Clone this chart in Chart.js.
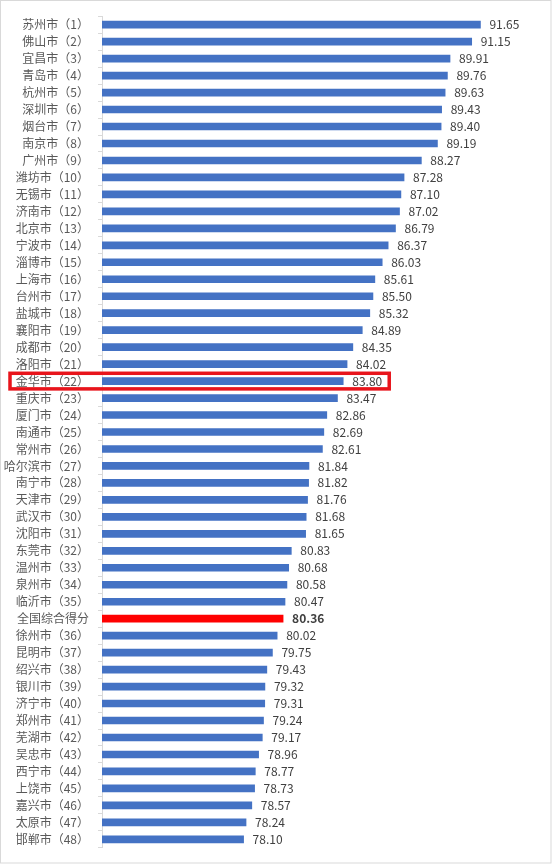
<!DOCTYPE html>
<html>
<head>
<meta charset="utf-8">
<script src="https://cdn.jsdelivr.net/npm/chart.js@4/dist/chart.umd.min.js"></script>
<style>
html,body{margin:0;padding:0;background:#fff;}
#wrap{position:absolute;left:0;top:0;width:553px;height:864px;}
</style>
</head>
<body>
<div id="wrap"><canvas id="c" width="553" height="864"></canvas></div>
<script>
const cities = ['苏州市','佛山市','宜昌市','青岛市','杭州市','深圳市','烟台市','南京市','广州市','潍坊市',
  '无锡市','济南市','北京市','宁波市','淄博市','上海市','台州市','盐城市','襄阳市','成都市',
  '洛阳市','金华市','重庆市','厦门市','南通市','常州市','哈尔滨市','南宁市','天津市','武汉市',
  '沈阳市','东莞市','温州市','泉州市','临沂市','全国综合得分','徐州市','昆明市','绍兴市','银川市',
  '济宁市','郑州市','芜湖市','吴忠市','西宁市','上饶市','嘉兴市','太原市','邯郸市'];
const ranks = [1,2,3,4,5,6,7,8,9,10,11,12,13,14,15,16,17,18,19,20,21,22,23,24,25,26,27,28,29,30,
  31,32,33,34,35,null,36,37,38,39,40,41,42,43,44,45,46,47,48];
const scores = [91.65,91.15,89.91,89.76,89.63,89.43,89.40,89.19,88.27,87.28,
  87.10,87.02,86.79,86.37,86.03,85.61,85.50,85.32,84.89,84.35,
  84.02,83.80,83.47,82.86,82.69,82.61,81.84,81.82,81.76,81.68,
  81.65,80.83,80.68,80.58,80.47,80.36,80.02,79.75,79.43,79.32,
  79.31,79.24,79.17,78.96,78.77,78.73,78.57,78.24,78.10];
const nationalLabel = '全国综合得分';
const highlightCity = '金华市';

const labels = cities.map((c, i) => ranks[i] === null ? c : c + '（' + ranks[i] + '）');
const colors = cities.map(c => c === nationalLabel ? '#FF0000' : '#4472C4');
const FONT = '"Noto Sans CJK SC", "Noto Sans", sans-serif';

const valueLabels = {
  id: 'valueLabels',
  afterDatasetsDraw(chart) {
    const ctx = chart.ctx;
    const meta = chart.getDatasetMeta(0);
    ctx.save();
    ctx.textBaseline = 'middle';
    ctx.textAlign = 'left';
    ctx.fillStyle = '#404040';
    meta.data.forEach((bar, i) => {
      const bold = cities[i] === nationalLabel;
      ctx.font = (bold ? 'bold ' : '') + '12px ' + FONT;
      ctx.fillText(scores[i].toFixed(2), bar.x + 9, bar.y);
    });
    ctx.restore();
  }
};

const highlightBox = {
  id: 'highlightBox',
  afterDraw(chart) {
    const ctx = chart.ctx;
    const idx = cities.indexOf(highlightCity);
    const y = chart.scales.y.getPixelForValue(idx);
    const xEnd = chart.scales.x.getPixelForValue(scores[idx]) + 46;
    ctx.save();
    ctx.strokeStyle = '#E8141B';
    ctx.lineWidth = 3.5;
    ctx.strokeRect(10, y - 7.8, xEnd - 10, 15.6);
    ctx.restore();
  }
};

const frame = {
  id: 'frame',
  beforeDraw(chart) {
    const ctx = chart.ctx;
    ctx.save();
    ctx.fillStyle = '#fff';
    ctx.fillRect(0, 0, chart.width, chart.height);
    ctx.strokeStyle = '#D9D9D9';
    ctx.lineWidth = 1;
    ctx.strokeRect(0.5, 0.5, 550.5, 862.5);
    ctx.restore();
  }
};

new Chart(document.getElementById('c'), {
  type: 'bar',
  data: {
    labels: labels,
    datasets: [{
      data: scores,
      backgroundColor: colors,
      barThickness: 7
    }]
  },
  options: {
    indexAxis: 'y',
    responsive: false,
    animation: false,
    devicePixelRatio: 1,
    layout: { padding: { top: 15.8, bottom: 15.5, left: 0, right: 14 } },
    plugins: { legend: { display: false }, tooltip: { enabled: false } },
    scales: {
      x: {
        min: 70, max: 95,
        display: false
      },
      y: {
        afterFit(scale) { scale.width = 102; },
        grid: { drawOnChartArea: false, tickLength: 4, color: '#D9D9D9', offset: true },
        border: { display: true, color: '#D9D9D9' },
        ticks: {
          color: '#595959',
          padding: 9,
          autoSkip: false,
          font: { size: 12, family: FONT }
        }
      }
    }
  },
  plugins: [frame, valueLabels, highlightBox]
});
</script>
</body>
</html>
